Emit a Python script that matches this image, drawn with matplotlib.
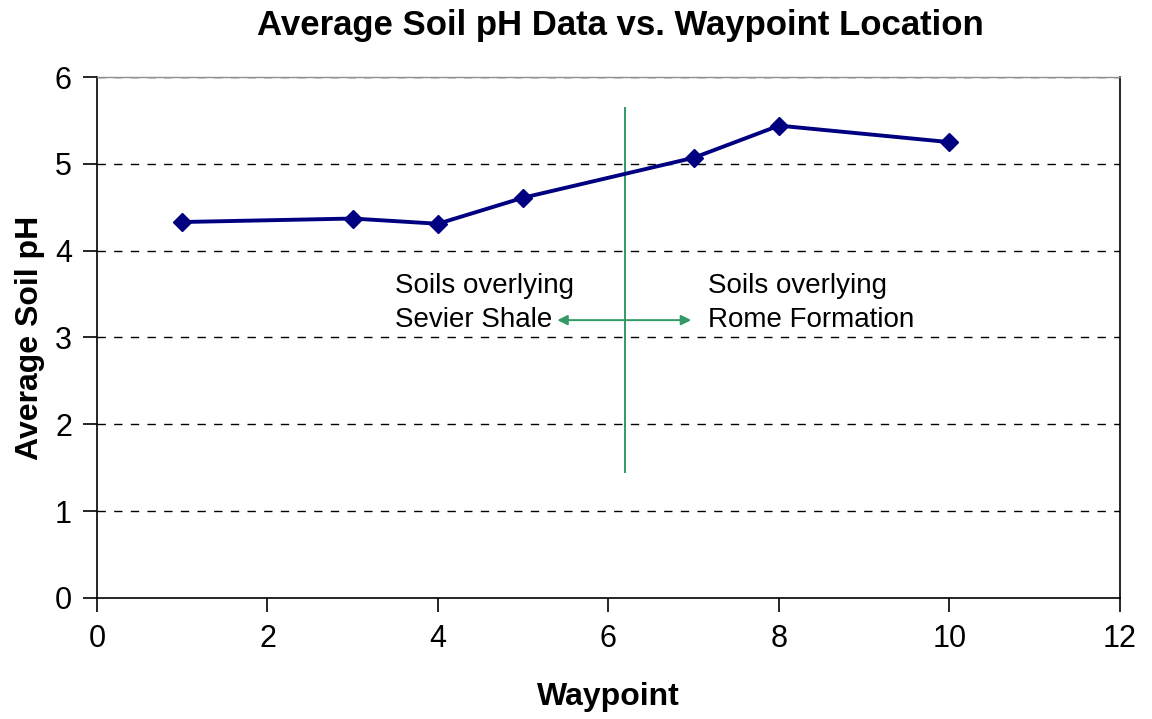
import matplotlib
matplotlib.use("Agg")
import matplotlib.pyplot as plt

plt.rcParams["font.family"] = ["Liberation Sans", "DejaVu Sans"]

waypoints = [1, 3, 4, 5, 7, 8, 10]
avg_ph = [4.33, 4.37, 4.31, 4.61, 5.07, 5.44, 5.25]

x_ticks = [0, 2, 4, 6, 8, 10, 12]
y_ticks = [0, 1, 2, 3, 4, 5, 6]

boundary_x = 6.19
boundary_y = (1.45, 5.64)
arrow_left = 5.40
arrow_right = 6.97
arrow_y = 3.2

fig = plt.figure(figsize=(11.52, 7.19), dpi=100)
ax = fig.add_axes([0.0842, 0.1683, 0.888, 0.7246])

ax.set_xlim(0, 12)
ax.set_ylim(0, 6)
ax.set_xticks(x_ticks)
ax.set_yticks(y_ticks)
ax.tick_params(axis="both", labelsize=22, length=10, width=1.2, direction="out", pad=8)
ax.tick_params(axis="x", pad=9)

for y in y_ticks[1:]:
    ax.axhline(y, color="black", lw=1.0, ls=(0, (6, 6)), zorder=1)

for side in ["left", "bottom", "right"]:
    ax.spines[side].set_linewidth(1.2)
    ax.spines[side].set_color("black")
ax.spines["top"].set_color("#909090")
ax.spines["top"].set_linewidth(1.0)

ax.plot(waypoints, avg_ph, color="#000080", lw=2.8, marker="D", ms=9,
        markerfacecolor="#000080", markeredgecolor="#000080", zorder=3)

# boundary between the two soil units
ax.plot([boundary_x, boundary_x], boundary_y, color="#339966", lw=1.4, zorder=2)
ax.annotate("", xy=(arrow_left, arrow_y), xytext=(arrow_right, arrow_y),
            arrowprops=dict(arrowstyle="<|-|>", color="#339966", lw=1.4,
                            mutation_scale=15, shrinkA=0, shrinkB=0), zorder=2)

ax.text(3.5, 3.40, "Soils overlying\nSevier Shale", fontsize=20, ha="left",
        va="center", linespacing=1.42)
ax.text(7.17, 3.40, "Soils overlying\nRome Formation", fontsize=20, ha="left",
        va="center", linespacing=1.42)

ax.set_title("Average Soil pH Data vs. Waypoint Location", fontsize=25,
             fontweight="bold", pad=30, x=0.512)
ax.set_xlabel("Waypoint", fontsize=23, fontweight="bold", labelpad=20)
ax.set_ylabel("Average Soil pH", fontsize=23, fontweight="bold", labelpad=7)

fig.savefig("out.png", dpi=100)
